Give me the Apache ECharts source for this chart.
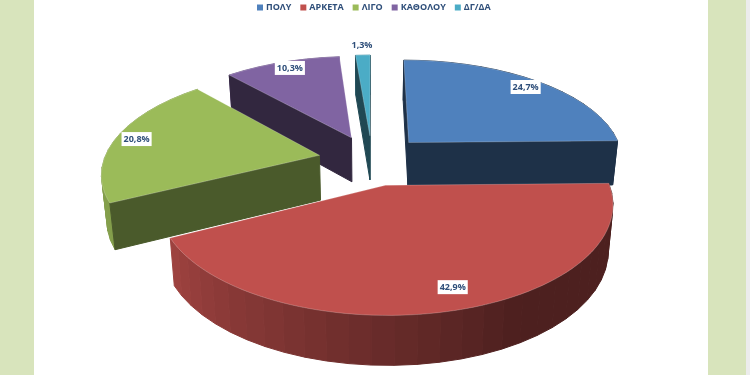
<!DOCTYPE html>
<html>
<head>
<meta charset="utf-8">
<title>pie</title>
<script src="https://cdn.jsdelivr.net/npm/echarts@6/dist/echarts.min.js"></script>
<style>
  html, body { margin: 0; padding: 0; background: #fff; }
  #main { width: 750px; height: 375px; }
</style>
</head>
<body>
<div id="main"></div>
<script>
const categories = ['ΠΟΛΥ', 'ΑΡΚΕΤΑ', 'ΛΙΓΟ', 'ΚΑΘΟΛΟΥ', 'ΔΓ/ΔΑ']
const values = [24.7, 42.9, 20.8, 10.3, 1.3]
const colors = ['#4f81bd', '#c0504d', '#9bbb59', '#8064a2', '#4bacc6']
const faceShade = [0.38, 0.38, 0.48, 0.39, 0.42]
// back slices first, the red one sits in front of everything
const paintOrder = [3, 4, 0, 2, 1]
// where the label sits inside a slice, fraction of the radius + small turn in degrees
const labelRadius = [0.9, 0.85, 0.9, 0.91, 1.14]
const labelTurn = [0, -3.4, 0, 0.8, 0]

// fake 3d: the disc lies on a plane seen in perspective
const cx = 372
const cy = 160
const rx = 215.5
const ry = 100.5
const persp = 0.158
const explode = 0.25
const bottomShrink = 0.98

const total = values.reduce((a, b) => a + b, 0)

function project(u, v) {
  const w = 1 + persp * v
  return [cx + u * rx / w, cy - v * ry / w]
}

function lower(p, v) {
  // bottom plane of the slab
  const depth = 45 - 4 * v
  return [cx + (p[0] - cx) * bottomShrink, p[1] + depth]
}

function shade(hex, f) {
  const n = parseInt(hex.slice(1), 16)
  const r = Math.round((n >> 16 & 255) * f)
  const g = Math.round((n >> 8 & 255) * f)
  const b = Math.round((n & 255) * f)
  return 'rgb(' + r + ',' + g + ',' + b + ')'
}

function rimShade(deg) {
  const f = 0.4 + (deg - 150) / 93 * 0.43
  return Math.max(0.4, Math.min(0.85, f))
}

function sliceItem(i) {
  return function (params, api) {
    const value = api.value(0)
    let before = 0
    for (let k = 0; k < i; k++) before += values[k]
    const a0 = before / total * 360
    const a1 = (before + value) / total * 360
    const mid = (a0 + a1) / 2 * Math.PI / 180
    const ox = Math.sin(mid) * explode
    const oy = Math.cos(mid) * explode
    const color = api.visual('color')

    const world = (deg, r) => {
      const t = deg * Math.PI / 180
      return [ox + Math.sin(t) * r, oy + Math.cos(t) * r]
    }
    const top = (deg, r) => {
      const w = world(deg, r)
      return project(w[0], w[1])
    }
    const bottom = (deg, r) => {
      const w = world(deg, r)
      return lower(project(w[0], w[1]), w[1])
    }

    const children = []
    const poly = (points, fill, stroke, lineWidth) => children.push({
      type: 'polygon',
      shape: { points: points },
      style: { fill: fill, stroke: stroke || fill, lineWidth: lineWidth === undefined ? 1 : lineWidth }
    })

    // outer wall, cut in bands like the office renderer does
    const bands = Math.max(1, Math.round((a1 - a0) / 5))
    for (let b = 0; b < bands; b++) {
      const d0 = a0 + (a1 - a0) * b / bands
      const d1 = a0 + (a1 - a0) * (b + 1) / bands
      poly([top(d0, 1), top(d1, 1), bottom(d1, 1), bottom(d0, 1)], shade(color, rimShade((d0 + d1) / 2)))
    }

    // the two cut faces, only when they turn towards the viewer
    const dark = shade(color, faceShade[i])
    const apex = top(a0, 0)
    const inner = top((a0 + a1) / 2, 0.5)
    const faces = [a1, a0]
    faces.forEach((deg) => {
      const rim = top(deg, 1)
      const ex = rim[0] - apex[0]
      const ey = rim[1] - apex[1]
      const side = ex * (inner[1] - apex[1]) - ey * (inner[0] - apex[0])
      if (ex * side < 0) {
        poly([top(deg, 0), rim, bottom(deg, 1), bottom(deg, 0)], dark)
      }
    })

    // top face
    const pts = [top(a0, 0)]
    const steps = Math.max(2, Math.round((a1 - a0) / 2))
    for (let s = 0; s <= steps; s++) {
      pts.push(top(a0 + (a1 - a0) * s / steps, 1))
    }
    poly(pts, color, 'rgba(255,255,255,0.3)', 0.7)

    const lp = top((a0 + a1) / 2 + labelTurn[i], labelRadius[i])
    children.push({
      type: 'text',
      style: {
        x: lp[0],
        y: lp[1],
        text: value.toFixed(1).replace('.', ',') + '%',
        align: 'center',
        verticalAlign: 'middle',
        fill: '#2f4f7a',
        font: 'bold 9px "Open Sans"',
        backgroundColor: '#fff',
        padding: [3, 2, 2, 2]
      }
    })

    return { type: 'group', children: children }
  }
}

const chart = echarts.init(document.getElementById('main'))
chart.setOption({
  animation: false,
  backgroundColor: '#fff',
  graphic: [
    { type: 'rect', shape: { x: 0, y: 0, width: 34, height: 375 }, style: { fill: '#d8e4bc' } },
    { type: 'rect', shape: { x: 708, y: 0, width: 38, height: 375 }, style: { fill: '#d8e4bc' } },
    { type: 'rect', shape: { x: 746, y: 0, width: 4, height: 375 }, style: { fill: '#ececec' } }
  ],
  legend: {
    left: 257,
    top: 3,
    padding: 0,
    icon: 'rect',
    itemWidth: 6,
    itemHeight: 6,
    itemGap: 9,
    textStyle: {
      color: '#2f4f7a',
      fontFamily: 'Open Sans',
      fontWeight: 'bold',
      fontSize: 9,
      padding: [0, 0, 0, -2]
    },
    data: categories
  },
  series: categories.map((name, i) => ({
    type: 'custom',
    name: name,
    coordinateSystem: 'none',
    z: paintOrder.indexOf(i) + 2,
    silent: true,
    itemStyle: { color: colors[i] },
    renderItem: sliceItem(i),
    data: [[values[i]]]
  }))
})
</script>
</body>
</html>
